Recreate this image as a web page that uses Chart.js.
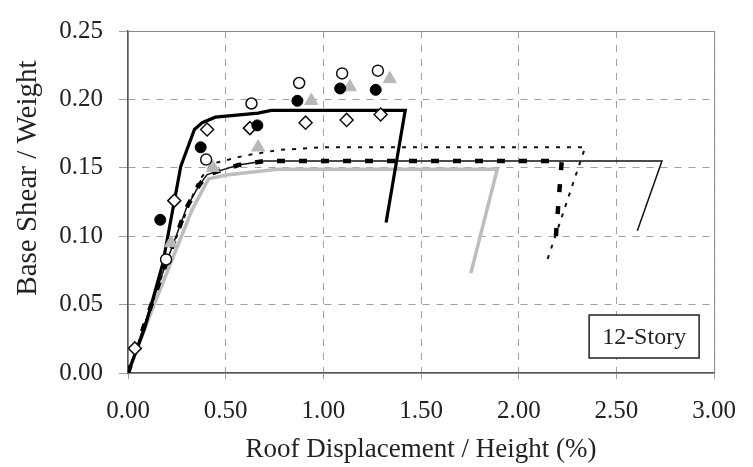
<!DOCTYPE html>
<html>
<head>
<meta charset="utf-8">
<script src="https://cdn.jsdelivr.net/npm/chart.js@4/dist/chart.umd.min.js"></script>
<style>
  html, body { margin: 0; padding: 0; background: #fff; }
  #wrap { width: 753px; height: 467px; }
</style>
</head>
<body>
<div id="wrap"><canvas id="pushoverChart" width="753" height="467"></canvas></div>
<script>
// pushover curves (roof drift %, base shear / weight)
const thickSolidX = [0, 0.086, 0.178, 0.27, 0.34, 0.38, 0.447, 0.666, 0.733, 1.419, 1.321];
const thickSolidY = [0, 0.033, 0.080, 0.151, 0.178, 0.183, 0.187, 0.190, 0.192, 0.192, 0.110];

const boldDashX = [0, 0.1, 0.2, 0.3, 0.363, 0.405, 0.565, 0.7, 2.22, 2.19];
const boldDashY = [0, 0.042, 0.082, 0.121, 0.137, 0.145, 0.152, 0.155, 0.155, 0.100];

const thinSolidX = [0, 0.1, 0.2, 0.3, 0.363, 0.405, 0.565, 0.7, 2.733, 2.607];
const thinSolidY = [0, 0.042, 0.082, 0.121, 0.137, 0.145, 0.152, 0.155, 0.155, 0.104];

const dottedX = [0, 0.2, 0.36, 0.43, 0.6, 0.77, 1.0, 2.34, 2.14];
const dottedY = [0, 0.082, 0.140, 0.153, 0.159, 0.163, 0.165, 0.165, 0.080];

const grayX = [0, 0.12, 0.24, 0.33, 0.413, 0.514, 0.766, 1.89, 1.755];
const grayY = [0, 0.045, 0.088, 0.120, 0.142, 0.145, 0.149, 0.149, 0.073];

// analysis points
const openCircleX = [0.195, 0.40, 0.632, 0.876, 1.096, 1.279];
const openCircleY = [0.083, 0.156, 0.197, 0.212, 0.219, 0.221];

const filledCircleX = [0.165, 0.372, 0.662, 0.867, 1.086, 1.268];
const filledCircleY = [0.112, 0.165, 0.181, 0.199, 0.208, 0.207];

const triangleX = [0.22, 0.435, 0.666, 0.938, 1.136, 1.34];
const triangleY = [0.095, 0.150, 0.165, 0.199, 0.209, 0.215];

const diamondX = [0.035, 0.237, 0.405, 0.624, 0.909, 1.119, 1.293];
const diamondY = [0.018, 0.126, 0.178, 0.179, 0.183, 0.185, 0.189];

const xTicks = [0, 0.5, 1.0, 1.5, 2.0, 2.5, 3.0];
const yTicks = [0, 0.05, 0.10, 0.15, 0.20, 0.25];
const boxLabel = '12-Story';
const yTitle = 'Base Shear / Weight';

function pts(xs, ys) {
    return xs.map((x, i) => ({ x: x, y: ys[i] }));
}

const serif = '"Liberation Serif", "Times New Roman", serif';

const storyBox = {
    id: 'storyBox',
    beforeDatasetsDraw(chart) {
        const a = chart.chartArea;
        const ctx = chart.ctx;
        ctx.save();
        ctx.strokeStyle = '#8a8a8a';
        ctx.lineWidth = 1;
        ctx.strokeRect(a.left + 0.5, a.top + 0.5, a.right - a.left, a.bottom - a.top);
        ctx.restore();
    },
    afterDraw(chart) {
        const a = chart.chartArea;
        const ctx = chart.ctx;
        ctx.save();
        const w = 110, h = 43;
        const bx = a.right - 125, by = a.bottom - 58;
        ctx.fillStyle = '#fff';
        ctx.fillRect(bx, by, w, h);
        ctx.strokeStyle = '#222';
        ctx.lineWidth = 1.5;
        ctx.strokeRect(bx, by, w, h);
        ctx.fillStyle = '#222';
        ctx.font = '24px ' + serif;
        ctx.textAlign = 'center';
        ctx.textBaseline = 'middle';
        ctx.fillText(boxLabel, bx + w / 2, by + h / 2 + 1);

        // y axis title, sits a bit above the plot centre like the original
        ctx.translate(28, a.top + (a.bottom - a.top) * 0.43);
        ctx.rotate(-Math.PI / 2);
        ctx.font = '29px ' + serif;
        ctx.fillText(yTitle, 0, 0);
        ctx.restore();
    }
};

const lineDefaults = { showLine: true, pointRadius: 0, fill: false, tension: 0 };

const ctx = document.getElementById('pushoverChart').getContext('2d');
new Chart(ctx, {
    type: 'scatter',
    data: {
        datasets: [
            { label: 'open circle', data: pts(openCircleX, openCircleY), pointStyle: 'circle', pointRadius: 5.5,
              backgroundColor: '#fff', borderColor: '#111', borderWidth: 1.5, order: 1 },
            { label: 'filled circle', data: pts(filledCircleX, filledCircleY), pointStyle: 'circle', pointRadius: 5.5,
              backgroundColor: '#000', borderColor: '#000', borderWidth: 1, order: 1 },
            { label: 'triangle', data: pts(triangleX, triangleY), pointStyle: 'triangle', pointRadius: 7.5,
              backgroundColor: '#b8b8b8', borderColor: '#b8b8b8', borderWidth: 1, order: 1 },
            { label: 'diamond', data: pts(diamondX, diamondY), pointStyle: 'rectRot', pointRadius: 6.5,
              backgroundColor: '#fff', borderColor: '#111', borderWidth: 1.5, order: 1 },
            Object.assign({ label: 'thick solid', data: pts(thickSolidX, thickSolidY),
              borderColor: '#000', borderWidth: 3.2, order: 2 }, lineDefaults),
            Object.assign({ label: 'bold dash', data: pts(boldDashX, boldDashY),
              borderColor: '#000', borderWidth: 4.5, borderDash: [8, 14], order: 3 }, lineDefaults),
            Object.assign({ label: 'thin solid', data: pts(thinSolidX, thinSolidY),
              borderColor: '#111', borderWidth: 1.5, order: 4 }, lineDefaults),
            Object.assign({ label: 'dotted', data: pts(dottedX, dottedY),
              borderColor: '#111', borderWidth: 2, borderDash: [4, 7], order: 5 }, lineDefaults),
            Object.assign({ label: 'gray', data: pts(grayX, grayY),
              borderColor: '#bdbdbd', borderWidth: 3.5, order: 6 }, lineDefaults)
        ]
    },
    options: {
        responsive: false,
        animation: false,
        layout: { padding: { top: 21, right: 30, left: 0, bottom: 0 } },
        plugins: { legend: { display: false }, tooltip: { enabled: false } },
        scales: {
            x: {
                type: 'linear',
                min: 0,
                max: 3,
                afterBuildTicks: s => { s.ticks = xTicks.map(v => ({ value: v })); },
                afterFit: s => { s.height = 94; },
                ticks: {
                    color: '#222',
                    padding: 17,
                    maxRotation: 0,
                    font: { family: serif, size: 25 },
                    callback: v => Number(v).toFixed(2)
                },
                grid: { color: '#a0a0a0', tickLength: 6, tickColor: '#a0a0a0' },
                border: { display: true, color: '#555', width: 1.5, dash: [7, 7] },
                title: {
                    display: true,
                    text: 'Roof Displacement / Height (%)',
                    color: '#222',
                    font: { family: serif, size: 27 },
                    padding: { top: 0, bottom: 1 }
                }
            },
            y: {
                type: 'linear',
                min: 0,
                max: 0.25,
                afterBuildTicks: s => { s.ticks = yTicks.map(v => ({ value: v })); },
                afterFit: s => { s.width = 128; },
                ticks: {
                    color: '#222',
                    padding: 16,
                    font: { family: serif, size: 25 },
                    callback: v => Number(v).toFixed(2)
                },
                grid: { color: '#a0a0a0', tickLength: 9, tickColor: '#a0a0a0' },
                border: { display: true, color: '#555', width: 1.5, dash: [7, 7] }
            }
        }
    },
    plugins: [storyBox]
});
</script>
</body>
</html>
